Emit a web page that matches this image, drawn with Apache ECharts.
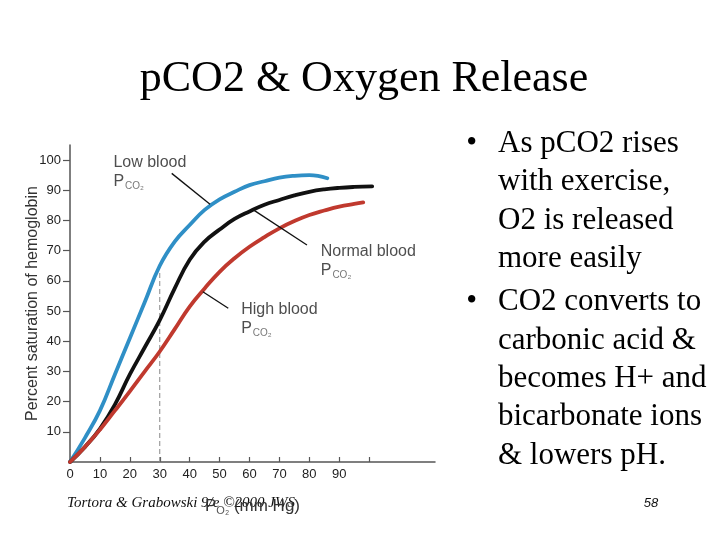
<!DOCTYPE html>
<html>
<head>
<meta charset="utf-8">
<script src="https://cdn.jsdelivr.net/npm/echarts@6/dist/echarts.min.js"></script>
<style>html,body{margin:0;padding:0;background:#fff}#c{width:720px;height:540px}</style>
</head>
<body>
<div id="c"></div>
<script>
// ---- data ----
const lowX  = [0,5,10,15,20,25,30,35,40,45,50,55,60,65,70,75,80,86];
const lowY  = [0,8,17,29,41,53,65,73,78.5,83.5,87,89.5,91.7,93,94.2,94.8,95,94];
const normX = [0,5,10,15,20,25,30,35,40,45,50,55,60,65,70,75,80,85,90,95,101];
const normY = [0,5,11,19,29,38,47,57.5,67,73,77,80.5,83,85.2,86.8,88.3,89.5,90.3,90.8,91.1,91.3];
const highX = [0,5,10,15,20,25,30,35,40,45,50,55,60,65,70,75,80,85,90,95,98];
const highY = [0,5,10.7,17,23.4,30,36.6,44,51.5,57.5,63,67.5,71.3,74.5,77.4,79.8,81.8,83.3,84.6,85.5,86];
const xTickValues  = [10,20,30,40,50,60,70,80,90,100];
const xLabelValues = [0,10,20,30,40,50,60,70,80,90];
const yTickValues  = [10,20,30,40,50,60,70,80,90,100];
const annoText = ['Low blood','Normal blood','High blood'];
const annoX = [14.5, 83.8, 57.2];
const annoY = [102.4, 72.9, 53.7];
const leaderFrom = [[34,95.6],[61.3,83.5],[44.4,56.4]];
const leaderTo   = [[46.8,85.4],[79.2,71.9],[52.9,50.9]];
const refX = 30, refTop = 63;
const bullets = [
  ['As pCO2 rises','with exercise,','O2 is released','more easily'],
  ['CO2 converts to','carbonic acid &','becomes H+ and','bicarbonate ions','& lowers pH.']
];

const zip = (xs, ys) => xs.map((x,i)=>[x, ys[i]]);
const sans = 'Liberation Sans, Arial, sans-serif';
const serif = 'Liberation Serif, Times New Roman, serif';

const series = [];
series.push({
  type:'line', data:[[refX,0],[refX,refTop]], showSymbol:false, silent:true,
  lineStyle:{color:'#888', width:1, type:[5,3]}, z:1
});
const curveCols = ['#2f8fc6','#111111','#c0392e'];
[[lowX,lowY],[normX,normY],[highX,highY]].forEach((d,i)=>{
  series.push({type:'line', data:zip(d[0],d[1]), smooth:0.45, showSymbol:false, silent:true,
    lineStyle:{color:curveCols[i], width:3.8, cap:'round'}, z:2});
});
leaderFrom.forEach((f,i)=>{
  series.push({type:'line', data:[f, leaderTo[i]], showSymbol:false, silent:true,
    lineStyle:{color:'#111', width:1.3}, z:3});
});
series.push({
  type:'scatter', symbolSize:0, silent:true, z:4,
  data: annoText.map((t,i)=>({value:[annoX[i], annoY[i]], name:t})),
  label:{show:true, position:[0,0], align:'left', verticalAlign:'top',
    formatter: p => '{a|'+p.name+'}\n{p|P}{s|CO₂}',
    rich:{
      a:{fontFamily:sans, fontSize:16, color:'#222', lineHeight:19},
      p:{fontFamily:sans, fontSize:16, color:'#222', lineHeight:19},
      s:{fontFamily:sans, fontSize:10, color:'#555', lineHeight:19, verticalAlign:'bottom', padding:[0,0,0,1]}
    }}
});

const graphic = [
  {type:'text', x:364, y:79, style:{text:'pCO2 & Oxygen Release', font:'44px '+serif, fill:'#000', align:'center', verticalAlign:'middle'}},
  {type:'text', x:67, y:503, style:{text:'Tortora & Grabowski 9/e ©2000 JWS', font:'italic 15px '+serif, fill:'#111', align:'left', verticalAlign:'middle'}},
  {type:'text', x:651, y:503, style:{text:'58', font:'italic 13px '+sans, fill:'#111', align:'center', verticalAlign:'middle'}}
];
const lineMid = [[143.7,182,220.4,258.7],[302,340.4,378.7,417,455.4]];
bullets.forEach((para,pi)=>{
  graphic.push({type:'text', x:471.7, y:lineMid[pi][0], style:{text:'•', font:'31px '+serif, fill:'#000', align:'center', verticalAlign:'middle'}});
  para.forEach((ln,li)=>{
    graphic.push({type:'text', x:498, y:lineMid[pi][li], style:{text:ln, font:'31px '+serif, fill:'#000', align:'left', verticalAlign:'middle'}});
  });
});

const chart = echarts.init(document.getElementById('c'));
chart.setOption({
  animation:false,
  backgroundColor:'#fff',
  grid:{left:70, right:285, top:145, bottom:78, containLabel:false},
  xAxis:{
    type:'value', min:0, max:122, interval:10,
    name:'{p|P}{s|O₂}{p| (mm Hg)}', nameLocation:'middle', nameGap:34, nameMoveOverlap:false,
    nameTextStyle:{rich:{
      p:{fontFamily:sans, fontSize:17, color:'#333', lineHeight:20},
      s:{fontFamily:sans, fontSize:11, color:'#555', lineHeight:20, verticalAlign:'bottom'}
    }},
    axisLine:{show:true, lineStyle:{color:'#555', width:1.5}},
    axisTick:{show:true, inside:true, length:5, customValues:xTickValues, lineStyle:{color:'#555', width:1.2}},
    axisLabel:{customValues:xLabelValues, fontFamily:sans, fontSize:13, color:'#222', margin:6},
    splitLine:{show:false}
  },
  yAxis:{
    type:'value', min:0, max:105, interval:10,
    name:'Percent saturation of hemoglobin', nameLocation:'middle', nameRotate:90, nameGap:29, nameMoveOverlap:false,
    nameTextStyle:{fontFamily:sans, fontSize:16, color:'#333'},
    axisLine:{show:true, lineStyle:{color:'#555', width:1.5}},
    axisTick:{show:true, inside:false, length:7, customValues:yTickValues, lineStyle:{color:'#555', width:1.2}},
    axisLabel:{customValues:yTickValues, fontFamily:sans, fontSize:13, color:'#222', margin:9},
    splitLine:{show:false}
  },
  series: series,
  graphic: graphic
});
</script>
</body>
</html>
